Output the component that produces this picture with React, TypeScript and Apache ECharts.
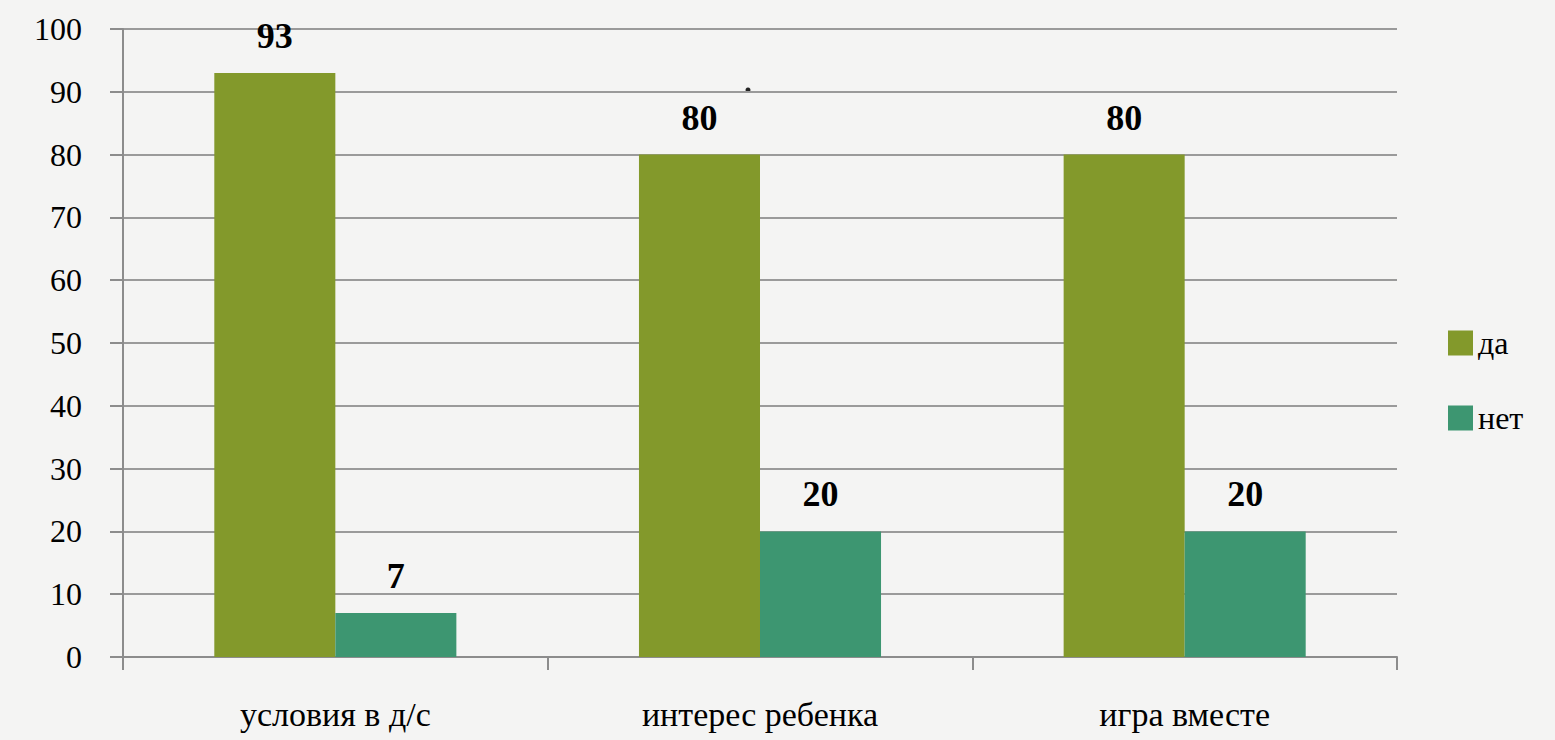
import React, { useEffect, useRef } from "react";
import * as echarts from "echarts";

const categories = ["условия в д/с", "интерес ребенка", "игра вместе"];
const seriesNames = ["да", "нет"];
const yesValues = [93, 80, 80];
const noValues = [7, 20, 20];
const colors = ["#83992B", "#3D9671"];

export default function App() {
  const ref = useRef<HTMLDivElement>(null);
  useEffect(() => {
    document.body.style.margin = "0";
    const chart = echarts.init(ref.current!, null, { renderer: "svg" });
    const font = "Liberation Serif";
    const label = {
      show: true,
      position: "top",
      distance: 19,
      fontSize: 36,
      fontWeight: "bold",
      fontFamily: font,
      color: "#000",
    };
    chart.setOption({
      animation: false,
      backgroundColor: "#f4f4f3",
      grid: { left: 123, right: 158, top: 29, bottom: 83 },
      legend: {
        orient: "vertical",
        left: 1443,
        top: 322,
        itemWidth: 25,
        itemHeight: 25,
        itemGap: 43,
        itemTextGap: 10,
        icon: "rect",
        data: seriesNames,
        textStyle: { fontSize: 32, fontFamily: font, fontWeight: 400, color: "#000" },
      },
      xAxis: {
        type: "category",
        data: categories,
        axisLine: { lineStyle: { color: "#8c8c8c", width: 2 } },
        axisTick: { show: true, length: 13, lineStyle: { color: "#8c8c8c", width: 2 } },
        axisLabel: { fontSize: 34, color: "#000", margin: 40, fontFamily: font, fontWeight: 400 },
      },
      yAxis: {
        type: "value",
        min: 0,
        max: 100,
        interval: 10,
        axisLine: { show: true, lineStyle: { color: "#8c8c8c", width: 2 } },
        axisTick: { show: true, length: 13, lineStyle: { color: "#8c8c8c", width: 2 } },
        splitLine: { lineStyle: { color: "#9a9a9a", width: 2 } },
        axisLabel: { fontSize: 32, color: "#000", margin: 41, fontFamily: font, fontWeight: 400 },
      },
      series: [
        { name: seriesNames[0], type: "bar", data: yesValues, itemStyle: { color: colors[0] }, barGap: "0%", barCategoryGap: "43%", label },
        { name: seriesNames[1], type: "bar", data: noValues, itemStyle: { color: colors[1] }, barGap: "0%", barCategoryGap: "43%", label },
      ],
      graphic: [
        { type: "circle", shape: { cx: 748, cy: 90, r: 2.5 }, style: { fill: "#222" } },
      ],
    });
    return () => chart.dispose();
  }, []);
  return <div ref={ref} style={{ width: 1555, height: 740 }} />;
}
